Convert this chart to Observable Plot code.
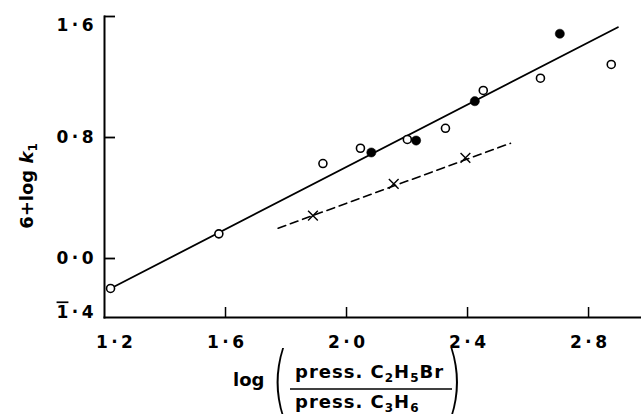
<!DOCTYPE html>
<html><head><meta charset="utf-8">
<script src="https://cdn.jsdelivr.net/npm/d3@7"></script>
<script src="https://cdn.jsdelivr.net/npm/@observablehq/plot@0.6"></script>
<style>body{margin:0;background:#fff} svg{display:block}</style>
</head><body><div id="chart"></div>
<script>
// open circles
const openX = [1.220, 1.578, 1.922, 2.046, 2.201, 2.327, 2.452, 2.641, 2.875];
const openY = [-0.198, 0.163, 0.628, 0.729, 0.787, 0.861, 1.111, 1.192, 1.283];
// filled circles
const filledX = [2.082, 2.230, 2.424, 2.705];
const filledY = [0.701, 0.780, 1.040, 1.486];
// crosses
const crossX = [1.889, 2.156, 2.393];
const crossY = [0.284, 0.494, 0.666];
// fitted lines
const solidX = [1.220, 2.897];
const solidY = [-0.198, 1.529];
const dashX = [1.774, 2.542];
const dashY = [0.200, 0.762];
// ticks
const xTicks = [1.2, 1.6, 2.0, 2.4, 2.8];
const xTickLabels = ["1·2", "1·6", "2·0", "2·4", "2·8"];
const yTicks = [1.6, 0.8, 0.0];
const yTickLabels = ["1·6", "0·8", "0·0"];
const yBottomTick = [-0.36];
const yBottomLabel = ["1·4"]; // the "1" carries a bar (negative characteristic)
const xDomain = [1.2, 2.975];
const yDomain = [-0.39, 1.6];

const W = 641, H = 414, mL = 104, mR = 0, mT = 16, mB = 97;
const font = "DejaVu Sans";
const sp = s => s.replace("·", "\u2009·\u2009");
const xLab = new Map(xTicks.map((d, i) => [d, sp(xTickLabels[i])]));
const yLab = new Map(yTicks.map((d, i) => [d, sp(yTickLabels[i])]));
yBottomTick.forEach((d, i) => yLab.set(d, sp(yBottomLabel[i])));

const pts = (xs, ys) => xs.map((x, i) => ({x, y: ys[i]}));
const axisOpts = {tickSize: 0, fontSize: 17, fontWeight: "bold", label: null};

const chart = Plot.plot({
  width: W, height: H,
  marginLeft: mL, marginRight: mR, marginTop: mT, marginBottom: mB,
  style: {fontFamily: font, background: "#fff", color: "#000"},
  x: {domain: xDomain, axis: null},
  y: {domain: yDomain, axis: null},
  marks: [
    Plot.frame({anchor: "left", strokeWidth: 2}),
    Plot.frame({anchor: "bottom", strokeWidth: 2}),
    Plot.tickY(yTicks, {y: d => d, insetRight: W - mL - mR - 11, strokeWidth: 1.8}),
    Plot.tickX(xTicks.slice(1), {x: d => d, insetTop: H - mT - mB - 10, strokeWidth: 1.5}),
    Plot.axisY(yTicks.slice(0, 1), {...axisOpts, tickPadding: 11, dy: 9, tickFormat: d => yLab.get(d)}),
    Plot.axisY([...yTicks.slice(1), ...yBottomTick], {...axisOpts, tickPadding: 11, tickFormat: d => yLab.get(d)}),
    Plot.axisX(xTicks.slice(1), {...axisOpts, tickPadding: 18, tickFormat: d => xLab.get(d)}),
    Plot.axisX(xTicks.slice(0, 1), {...axisOpts, tickPadding: 18, dx: 10, tickFormat: d => xLab.get(d)}),
    Plot.line(pts(solidX, solidY), {x: "x", y: "y", stroke: "#000", strokeWidth: 1.8}),
    Plot.line(pts(dashX, dashY), {x: "x", y: "y", stroke: "#000", strokeWidth: 1.6, strokeDasharray: "8,5"}),
    Plot.dot(pts(crossX, crossY), {x: "x", y: "y", symbol: "times", r: 4.5, stroke: "#000", strokeWidth: 1.4}),
    Plot.dot(pts(openX, openY), {x: "x", y: "y", r: 4, fill: "#fff", stroke: "#000", strokeWidth: 1.6}),
    Plot.dot(pts(filledX, filledY), {x: "x", y: "y", r: 4.6, fill: "#000", stroke: "#000", strokeWidth: 0.5})
  ]
});
document.getElementById("chart").appendChild(chart);

const svg = d3.select(chart);
// bar over the "1" of the bottom y label
svg.selectAll("text").filter(function() { return this.textContent === sp(yBottomLabel[0]); })
  .each(function() {
    const t = d3.select(this);
    const rest = this.textContent.slice(1);
    t.text(null);
    t.append("tspan").style("text-decoration", "overline").text(yBottomLabel[0][0]);
    t.append("tspan").text(rest);
  });

// y label
const yl = svg.append("text")
  .attr("transform", "translate(33,186) rotate(-90)")
  .attr("text-anchor", "middle")
  .attr("font-family", font).attr("font-size", 18).attr("font-weight", "bold").attr("fill", "#000");
yl.append("tspan").text("6+log ");
yl.append("tspan").attr("font-style", "italic").text("k");
yl.append("tspan").attr("font-size", 12).attr("dy", 4).text("1");

// x label
const g = svg.append("g").attr("font-family", font).attr("fill", "#000")
  .attr("font-weight", "bold").attr("text-anchor", "start");
g.append("text").attr("x", 233).attr("y", 386).attr("font-size", 18).text("log");
g.append("text").attr("font-size", 76).attr("font-weight", "200")
  .attr("transform", "translate(272,406) scale(0.55,1)").text("(");
g.append("text").attr("font-size", 76).attr("font-weight", "200")
  .attr("transform", "translate(446,406) scale(0.55,1)").text(")");
const num = g.append("text").attr("x", 295).attr("y", 378).attr("font-size", 18).attr("letter-spacing", 1);
num.append("tspan").text("press. C");
num.append("tspan").attr("font-size", 12).attr("dy", 4).text("2");
num.append("tspan").attr("dy", -4).text("H");
num.append("tspan").attr("font-size", 12).attr("dy", 4).text("5");
num.append("tspan").attr("dy", -4).text("Br");
svg.append("line").attr("x1", 290).attr("x2", 452).attr("y1", 389).attr("y2", 389)
  .attr("stroke", "#000").attr("stroke-width", 1.6);
const den = g.append("text").attr("x", 295).attr("y", 408).attr("font-size", 18).attr("letter-spacing", 1);
den.append("tspan").text("press. C");
den.append("tspan").attr("font-size", 12).attr("dy", 4).text("3");
den.append("tspan").attr("dy", -4).text("H");
den.append("tspan").attr("font-size", 12).attr("dy", 4).text("6");
</script></body></html>
